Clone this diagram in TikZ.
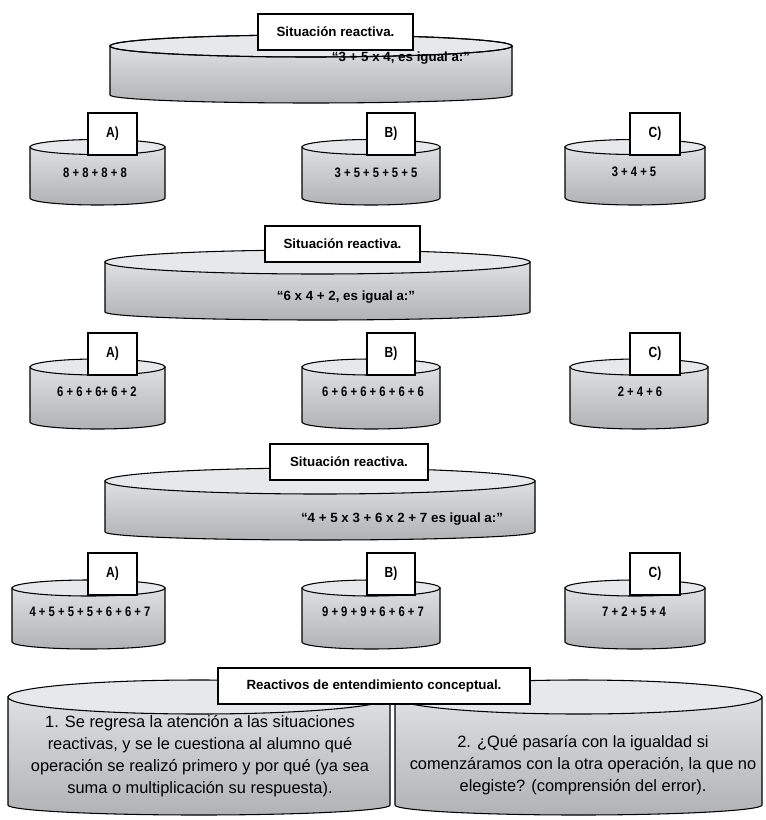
\documentclass[tikz,border=0pt]{standalone}
\usepackage{fontspec}
\setmainfont{Liberation Sans}
\newfontfamily\narrowf[FakeStretch=0.82]{Liberation Sans}
\definecolor{lidc}{HTML}{E6E8EA}
\definecolor{bodytop}{HTML}{DEE0E1}
\definecolor{bodybot}{HTML}{B0B2B4}
\tikzset{
  cylbody/.style={draw=black, line width=0.8pt, top color=bodytop, bottom color=bodybot},
  cyllid/.style={draw=black, line width=0.8pt, fill=lidc},
  lidline/.style={draw=black, line width=0.8pt},
  lblbox/.style={draw=black, line width=2.1pt, fill=white, inner sep=0pt},
  ttl/.style={font=\fontsize{10}{12}\selectfont\bfseries},
  stmt/.style={font=\fontsize{10}{12}\selectfont\bfseries, inner sep=0pt},
  frm/.style={font=\fontsize{10.3}{12}\selectfont\narrowf\bfseries, inner sep=0pt},
  chl/.style={font=\fontsize{11}{13}\selectfont\narrowf\bfseries},
  para/.style={font=\fontsize{12.3}{16.5}\selectfont, align=center, inner sep=0pt}
}
% x1 x2 ytop ybot rytop rybot
\newcommand\mycyl[6]{%
  \pgfmathsetmacro\cx{(#1+#2)/2}%
  \pgfmathsetmacro\rx{(#2-#1)/2}%
  \pgfmathsetmacro\kx{0.5523*\rx}%
  \pgfmathsetmacro\ky{0.5523*#6}%
  \path[cylbody] ({#1},{#3}) -- ({#1},{#4})
    .. controls ({#1},{#4+\ky}) and ({\cx-\kx},{#4+#6}) .. ({\cx},{#4+#6})
    .. controls ({\cx+\kx},{#4+#6}) and ({#2},{#4+\ky}) .. ({#2},{#4})
    -- ({#2},{#3}) -- cycle;
  \path[cyllid] ({\cx},{#3}) ellipse[x radius=\rx, y radius=#5];
}
\newcommand\mylidline[4]{%
  \pgfmathsetmacro\cx{(#1+#2)/2}%
  \pgfmathsetmacro\rx{(#2-#1)/2}%
  \path[lidline] ({\cx},{#3}) ellipse[x radius=\rx, y radius=#4];
}
% name x1 y1 x2 y2 style text
\newcommand\mybox[7]{%
  \node[lblbox, #6, minimum width={(#4-#2)*0.75pt}, minimum height={(#5-#3)*0.75pt}]
    (#1) at ({(#2+#4)/2},{(#3+#5)/2}) {#7};
}
\begin{document}
\begin{tikzpicture}[x=0.75pt, y=-0.75pt]
\useasboundingbox[fill=white] (0,0) rectangle (766,820);

% ---------- Section 1 ----------
\mycyl{110}{512}{46}{95}{11}{8}
\node[stmt] (s1) at (401,58) {“3 + 5 x 4, es igual a:”};
\mylidline{110}{512}{46}{11}
\mybox{t1}{258}{14}{413}{50}{ttl}{Situación reactiva.}

\mycyl{30}{165}{147}{198}{7.5}{7}
\node[frm] (a1) at (95,173) {8 + 8 + 8 + 8};
\mybox{ba1}{88}{113}{137}{155}{chl}{A)}
\mycyl{302}{440}{147}{198}{7.5}{7}
\node[frm] (b1) at (376,173) {3 + 5 + 5 + 5 + 5};
\mybox{bb1}{367}{113}{415}{155}{chl}{B)}
\mycyl{565}{705}{147}{198}{7.5}{7}
\node[frm] (c1) at (634,172) {3 + 4 + 5};
\mybox{bc1}{630}{113}{680}{155}{chl}{C)}

% ---------- Section 2 ----------
\mycyl{105}{530}{262}{312}{12}{8}
\node[stmt] (s2) at (346,297) {“6 x 4 + 2, es igual a:”};
\mybox{t2}{265}{226}{420}{262}{ttl}{Situación reactiva.}

\mycyl{30}{165}{367}{422}{8}{7}
\node[frm] (a2) at (97,392) {6 + 6 + 6+ 6 + 2};
\mybox{ba2}{88}{333}{137}{375}{chl}{A)}
\mycyl{302}{440}{367}{422}{8}{7}
\node[frm] (b2) at (373,392) {6 + 6 + 6 + 6 + 6 + 6};
\mybox{bb2}{367}{333}{415}{375}{chl}{B)}
\mycyl{570}{708}{367}{422}{8}{7}
\node[frm] (c2) at (640,392) {2 + 4 + 6};
\mybox{bc2}{630}{333}{680}{375}{chl}{C)}

% ---------- Section 3 ----------
\mycyl{105}{535}{481}{532}{13}{8}
\node[stmt] (s3) at (402,519) {“4 + 5 x 3 + 6 x 2 + 7 es igual a:”};
\mybox{t3}{270}{444}{428}{480}{ttl}{Situación reactiva.}

\mycyl{12}{165}{588}{642}{8}{7}
\node[frm] (a3) at (90,612) {4 + 5 + 5 + 5 + 6 + 6 + 7};
\mybox{ba3}{88}{553}{137}{595}{chl}{A)}
\mycyl{302}{440}{588}{642}{8}{7}
\node[frm] (b3) at (373,612) {9 + 9 + 9 + 6 + 6 + 7};
\mybox{bb3}{367}{553}{415}{595}{chl}{B)}
\mycyl{565}{705}{588}{642}{8}{7}
\node[frm] (c3) at (634,612) {7 + 2 + 5 + 4};
\mybox{bc3}{630}{553}{680}{595}{chl}{C)}

% ---------- Section 4 ----------
\mycyl{8}{390}{697}{805}{17}{10}
\mycyl{395}{762}{697}{805}{17}{10}
\node[para] (p1) at (200,756) {1. Se regresa la atención a las situaciones\\reactivas, y se le cuestiona al alumno qué\\operación se realizó primero y por qué (ya sea\\suma o multiplicación su respuesta).};
\node[para] (p2) at (583,765) {2. ¿Qué pasaría con la igualdad si\\comenzáramos con la otra operación, la que no\\elegiste? (comprensión del error).};
\mybox{t4}{218}{668}{530}{704}{ttl}{Reactivos de entendimiento conceptual.}
\end{tikzpicture}
\end{document}
